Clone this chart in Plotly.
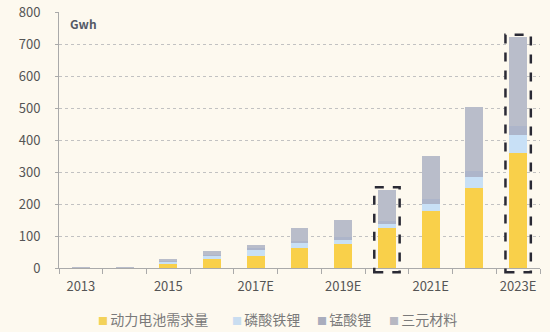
import plotly.graph_objects as go

categories = ['2013', '2014', '2015', '2016', '2017E', '2018E', '2019E', '2020E', '2021E', '2022E', '2023E']
demand = [0.5, 1.5, 14, 28, 38, 62, 74, 124, 178, 250, 358]
lfp = [0.3, 0.5, 5, 10, 21, 17, 16, 13, 23, 33, 58]
lmo = [0.1, 0.2, 2, 3, 3, 5, 6, 10, 14, 20, 28]
ncm = [0.2, 0.8, 7, 13, 10, 40, 53, 98, 136, 199, 278]
tick_labels = ['2013', '', '2015', '', '2017E', '', '2019E', '', '2021E', '', '2023E']
highlight = ['2020E', '2023E']

names = ['动力电池需求量', '磷酸铁锂', '锰酸锂', '三元材料']
colors = ['#f9d04a', '#c8e0f6', '#adb5ca', '#b9bdca']
legend_colors = ['#f3d25a', '#c9ddf0', '#a9adbd', '#b7b8c2']
series = [demand, lfp, lmo, ncm]

font_family = 'Noto Sans CJK SC, Noto Sans, sans-serif'
bg = '#fdf9ef'

fig = go.Figure()
for n, c, s in zip(names, colors, series):
    fig.add_trace(go.Bar(x=categories, y=s, name=n, showlegend=False,
                         marker=dict(color=c, line=dict(width=0))))

ymax = 800
ncat = len(categories)
totals = [a + b + c + d for a, b, c, d in zip(demand, lfp, lmo, ncm)]
for h in highlight:
    i = categories.index(h)
    fig.add_shape(type='rect', xref='paper', yref='paper',
                  x0=(i + 0.5 - 0.29) / ncat, x1=(i + 0.5 + 0.29) / ncat,
                  y0=-13 / ymax, y1=(totals[i] + 7) / ymax,
                  line=dict(color='#2a2a35', width=2.5, dash='dash'),
                  fillcolor='rgba(0,0,0,0)')

fig.add_annotation(text='<b>Gwh</b>', xref='paper', yref='paper', x=0.018, y=0.955,
                   xanchor='left', yanchor='middle', showarrow=False,
                   font=dict(size=12, color='#555a66', family=font_family))

# custom legend
legend_x = [0.077, 0.355, 0.532, 0.682]
for n, c, lx in zip(names, legend_colors, legend_x):
    fig.add_annotation(text=f'<span style="color:{c};font-size:10px">■ </span>{n}',
                       xref='paper', yref='paper', x=lx, y=-0.2, xanchor='left', yanchor='middle',
                       showarrow=False, font=dict(size=14, color='#7a7a7a', family=font_family))

fig.update_layout(
    width=550, height=332,
    margin=dict(l=59, r=10, t=12, b=64, autoexpand=False),
    barmode='stack', bargap=0.59,
    paper_bgcolor=bg, plot_bgcolor=bg,
    font=dict(family=font_family, size=13, color='#555555'),
    showlegend=False,
    xaxis=dict(type='category', tickmode='array', tickvals=categories, ticktext=tick_labels,
               tickson='boundaries', ticks='outside', ticklen=5, tickcolor='#aaaaaa',
               showline=True, linecolor='#aaaaaa', linewidth=1, showgrid=False,
               ticklabelstandoff=6, tickangle=0,
               tickfont=dict(size=13, color='#555555'), range=[-0.5, ncat - 0.5]),
    yaxis=dict(range=[0, ymax], dtick=100, showline=True, linecolor='#aaaaaa', linewidth=1,
               ticks='outside', ticklen=3, tickcolor='#aaaaaa', ticklabelstandoff=12,
               showgrid=True, gridcolor='#c2c2c2', griddash='dot', gridwidth=1,
               zeroline=False, tickfont=dict(size=13, color='#555555')),
)

fig.write_html('out.html')
